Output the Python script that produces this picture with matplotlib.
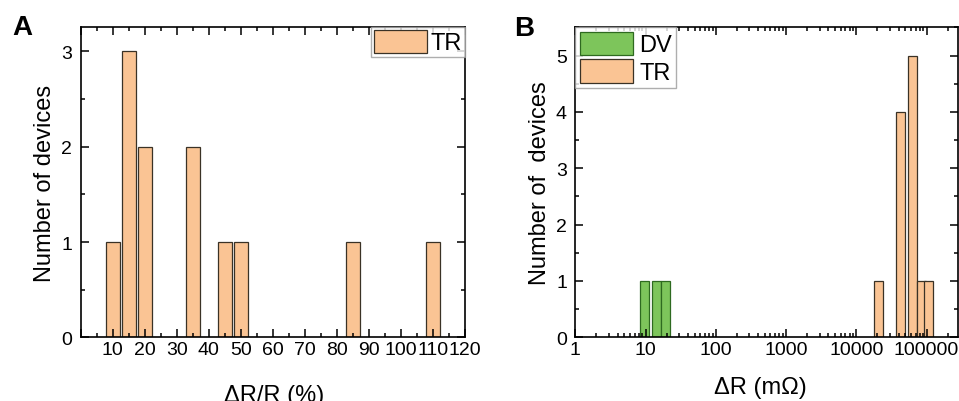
import numpy as np
import matplotlib
matplotlib.use("Agg")
import matplotlib.pyplot as plt
from matplotlib.ticker import MultipleLocator, LogLocator, FuncFormatter, NullFormatter

plt.rcParams['font.family'] = ['Liberation Sans', 'DejaVu Sans']

# Panel A: relative resistance change of TR devices
pct_bins = [10, 15, 20, 35, 45, 50, 85, 110]
pct_counts = [1, 3, 2, 2, 1, 1, 1, 1]

# Panel B: absolute resistance change (mOhm)
dv_bins = [9.7, 14.2, 19.1]
dv_counts = [1, 1, 1]
tr_bins = [20700, 42000, 63000, 84000, 105000]
tr_counts = [1, 4, 5, 1, 1]

orange = '#FAC494'
orange_edge = '#3A3226'
green = '#7DC55B'
green_edge = '#2E6A20'

fig = plt.figure(figsize=(9.59, 4.02), dpi=100)
axA = fig.add_axes([0.08415, 0.15846, 0.40073, 0.77264])
axB = fig.add_axes([0.59990, 0.15846, 0.39906, 0.77065])

TICK_FS = 14
LABEL_FS = 17
LEG_FS = 17


def style_axes(ax):
    for s in ax.spines.values():
        s.set_linewidth(1.2)
    ax.tick_params(which='both', direction='in', top=True, right=True,
                   width=1.1, labelsize=TICK_FS)
    ax.tick_params(which='major', length=5.8)
    ax.tick_params(which='minor', length=2.9)
    ax.tick_params(axis='x', pad=2.5)
    ax.tick_params(axis='y', pad=6.0)


# ---- Panel A ----
axA.bar(pct_bins, pct_counts, width=4.5, color=orange, edgecolor=orange_edge,
        linewidth=0.9, label='TR')
axA.set_xlim(0, 120)
axA.set_ylim(0, 3.26)
axA.xaxis.set_major_locator(MultipleLocator(10))
axA.xaxis.set_minor_locator(MultipleLocator(5))
axA.yaxis.set_major_locator(MultipleLocator(1))
axA.yaxis.set_minor_locator(MultipleLocator(0.5))
axA.xaxis.set_major_formatter(FuncFormatter(lambda v, _: '' if v < 10 else f'{v:.0f}'))
style_axes(axA)
axA.set_ylabel('Number of devices', fontsize=LABEL_FS, va='center')
axA.yaxis.set_label_coords(-0.093, 0.5)
axA.set_xlabel('ΔR/R (%)', fontsize=LABEL_FS, va='baseline')
axA.xaxis.set_label_coords(0.503, -0.2035)
legA = axA.legend(loc='upper right', bbox_to_anchor=(1, 1), borderaxespad=0,
                  fontsize=LEG_FS, frameon=True, fancybox=False,
                  handlelength=2.27, handleheight=1.14, handletextpad=0.15,
                  borderpad=0.12)
legA.get_frame().set_edgecolor('#9A9A9A')
legA.get_frame().set_linewidth(1.0)

# ---- Panel B ----
half = 0.065  # half bar width in decades


def log_bars(ax, centers, counts, **kw):
    c = np.asarray(centers, dtype=float)
    left = c * 10 ** (-half)
    width = c * (10 ** half - 10 ** (-half))
    ax.bar(left, counts, width=width, align='edge', **kw)


log_bars(axB, dv_bins, dv_counts, color=green, edgecolor=green_edge,
         linewidth=0.9, label='DV')
log_bars(axB, tr_bins, tr_counts, color=orange, edgecolor=orange_edge,
         linewidth=0.9, label='TR')
axB.set_xscale('log')
axB.set_xlim(1, 2.8e5)
axB.set_ylim(0, 5.5)
axB.xaxis.set_major_locator(LogLocator(base=10, numticks=12))
axB.xaxis.set_minor_locator(LogLocator(base=10, subs=np.arange(2, 10), numticks=12))
axB.xaxis.set_major_formatter(FuncFormatter(lambda v, _: f'{v:.0f}'))
axB.xaxis.set_minor_formatter(NullFormatter())
axB.yaxis.set_major_locator(MultipleLocator(1))
axB.yaxis.set_minor_locator(MultipleLocator(0.5))
style_axes(axB)
axB.set_ylabel('Number of  devices', fontsize=LABEL_FS, va='center')
axB.yaxis.set_label_coords(-0.092, 0.5)
axB.set_xlabel('ΔR (mΩ)', fontsize=LABEL_FS, va='baseline')
axB.xaxis.set_label_coords(0.4826, -0.18)
legB = axB.legend(loc='upper left', bbox_to_anchor=(0, 1), borderaxespad=0,
                  fontsize=LEG_FS, frameon=True, fancybox=False,
                  handlelength=2.27, handleheight=1.14, handletextpad=0.25,
                  borderpad=0.18, labelspacing=0.13)
legB.get_frame().set_edgecolor('#9A9A9A')
legB.get_frame().set_linewidth(1.0)

# Panel letters
fig.text(12 / 959, 1 - 35 / 402, 'A', fontsize=20, fontweight='bold',
         ha='left', va='baseline')
fig.text(514 / 959, 1 - 36 / 402, 'B', fontsize=20, fontweight='bold',
         ha='left', va='baseline')

fig.savefig('out.png', dpi=100)
